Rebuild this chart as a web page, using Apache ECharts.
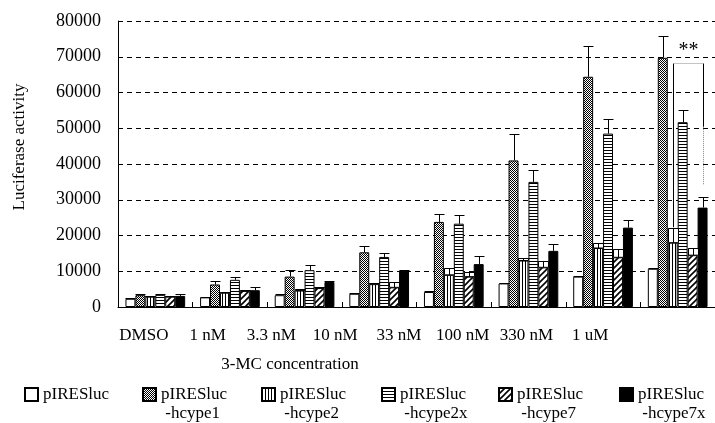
<!DOCTYPE html>
<html>
<head>
<meta charset="utf-8">
<script src="https://cdn.jsdelivr.net/npm/echarts@6/dist/echarts.min.js"></script>
<style>
  html, body { margin: 0; padding: 0; background: #fff; }
  #main { width: 715px; height: 423px; }
</style>
</head>
<body>
<div id="main"></div>
<script>
// categories and series
var categories = ['DMSO', '1 nM', '3.3 nM', '10 nM', '33 nM', '100 nM', '330 nM', '1 uM'];
var seriesNames = ['pIRESluc', 'pIRESluc-hcype1', 'pIRESluc-hcype2', 'pIRESluc-hcype2x', 'pIRESluc-hcype7', 'pIRESluc-hcype7x'];

var lucBase    = [2300, 2700, 3300, 3700, 4200, 6600, 8500, 10700];
var lucHcype1  = [3300, 6300, 8500, 15300, 23800, 41000, 64400, 69700];
var lucHcype2  = [2900, 4000, 4600, 6400, 9000, 13000, 16500, 18000];
var lucHcype2x = [3400, 7600, 10300, 14000, 23300, 35000, 48500, 51700];
var lucHcype7  = [2900, 4500, 5300, 5500, 8500, 11100, 13900, 14500];
var lucHcype7x = [3100, 4700, 7000, 10200, 12000, 15700, 22200, 27800];

// standard deviations (upper error bars)
var errBase    = [200, 200, 200, 200, 200, 200, 200, 200];
var errHcype1  = [300, 900, 1800, 1900, 2200, 7500, 8600, 6200];
var errHcype2  = [200, 300, 300, 400, 1800, 700, 1500, 4200];
var errHcype2x = [200, 900, 1500, 1100, 2300, 3300, 4200, 3500];
var errHcype7  = [200, 300, 400, 1600, 1200, 1900, 2200, 2100];
var errHcype7x = [400, 900, 200, 100, 2200, 1800, 2200, 3000];

var yTicks = [0, 80000, 10000]; // min, max, interval

// significance bracket at 1 uM: [category, left leg bottom, top, right solid end, right dotted end, star height]
var bracket = [[7, 22300, 68300, 50400, 34100, 71600]];

var values = [lucBase, lucHcype1, lucHcype2, lucHcype2x, lucHcype7, lucHcype7x];
var errors = [errBase, errHcype1, errHcype2, errHcype2x, errHcype7, errHcype7x];

var FONT = '"Liberation Serif", "DejaVu Serif", serif';

function pattern(w, h, draw) {
  var c = document.createElement('canvas');
  c.width = w; c.height = h;
  var g = c.getContext('2d');
  g.fillStyle = '#fff';
  g.fillRect(0, 0, w, h);
  g.fillStyle = '#000';
  g.strokeStyle = '#000';
  draw(g);
  return { image: c, repeat: 'repeat' };
}

var fills = [
  '#fff',
  pattern(2, 2, function (g) { g.fillRect(0, 0, 1, 1); g.fillRect(1, 1, 1, 1); }),
  pattern(3, 1, function (g) { g.fillRect(0, 0, 1, 1); }),
  pattern(1, 3, function (g) { g.fillRect(0, 0, 1, 1); }),
  pattern(6, 6, function (g) {
    g.lineWidth = 1.6;
    g.beginPath();
    g.moveTo(-1, 7); g.lineTo(7, -1);
    g.moveTo(-1, 1); g.lineTo(1, -1);
    g.moveTo(5, 7); g.lineTo(7, 5);
    g.stroke();
  }),
  '#000'
];

var errData = [];
values.forEach(function (vals, s) {
  vals.forEach(function (v, i) { errData.push([i, s, v, errors[s][i]]); });
});

function barW(api) { return api.size([1, 0])[0] * 0.8 / 6; }

function renderErr(params, api) {
  var cat = api.value(0), s = api.value(1), v = api.value(2), e = api.value(3);
  var bw = barW(api);
  var p0 = api.coord([cat, v]), p1 = api.coord([cat, v + e]);
  var x = Math.round(p0[0] + (s - 2.5) * bw) + 0.5;
  var y0 = p0[1], y1 = Math.round(p1[1]) + 0.5;
  var kids = [];
  if (s === 2 || s === 4) {
    kids.push({ type: 'rect', shape: { x: x - bw / 2, y: y1, width: bw, height: y0 - y1 },
      style: { fill: '#fff', stroke: '#000', lineWidth: 1 } });
  }
  kids.push({ type: 'line', shape: { x1: x, y1: y0, x2: x, y2: y1 }, style: { stroke: '#000', lineWidth: 1 } });
  kids.push({ type: 'line', shape: { x1: x - bw / 2, y1: y1, x2: x + bw / 2, y2: y1 }, style: { stroke: '#000', lineWidth: 1 } });
  return { type: 'group', children: kids };
}

function renderBracket(params, api) {
  var cat = api.value(0);
  var bw = barW(api);
  var c = api.coord([cat, 0])[0];
  var xl = Math.round(c - 0.5 * bw) + 0.5, xr = Math.round(c + 2.5 * bw) + 0.5;
  var yLow = api.coord([cat, api.value(1)])[1];
  var yTop = Math.round(api.coord([cat, api.value(2)])[1]) + 0.5;
  var yMid = api.coord([cat, api.value(3)])[1];
  var yEnd = api.coord([cat, api.value(4)])[1];
  var yStar = api.coord([cat, api.value(5)])[1];
  var solid = { stroke: '#000', lineWidth: 1 };
  var dotted = { stroke: '#888', lineWidth: 1, lineDash: [1, 1] };
  return { type: 'group', children: [
    { type: 'line', shape: { x1: xl, y1: yLow, x2: xl, y2: yTop }, style: solid },
    { type: 'line', shape: { x1: xl, y1: yTop, x2: xr, y2: yTop }, style: dotted },
    { type: 'line', shape: { x1: xr, y1: yTop, x2: xr, y2: yMid }, style: solid },
    { type: 'line', shape: { x1: xr, y1: yMid, x2: xr, y2: yEnd }, style: dotted },
    { type: 'text', style: { text: '**', x: (xl + xr) / 2, y: yStar, align: 'center', verticalAlign: 'middle',
      font: '20px ' + FONT, fill: '#000' } }
  ] };
}

var legendLeft = [24, 142, 261, 381, 498, 619];

var chart = echarts.init(document.getElementById('main'));

var series = seriesNames.map(function (name, s) {
  return {
    name: name,
    type: 'bar',
    data: values[s],
    barGap: 0,
    barCategoryGap: '20%',
    itemStyle: { color: fills[s], borderColor: '#000', borderWidth: 1 },
    emphasis: { disabled: true }
  };
});
series.push({ type: 'custom', name: 'err', renderItem: renderErr, data: errData, encode: { x: 0, y: 2 }, z: 5, silent: true });
series.push({ type: 'custom', name: 'sig', renderItem: renderBracket, data: bracket, encode: { x: 0, y: 1 }, z: 6, silent: true });

var option = {
  animation: false,
  backgroundColor: '#fff',
  grid: [
    { left: 118, top: 21, width: 600, height: 286 },
    { left: 112, top: 21, width: 510, height: 286 }
  ],
  xAxis: [
    {
      type: 'category', gridIndex: 0, data: categories,
      axisLine: { lineStyle: { color: '#000', width: 1 } },
      axisTick: { show: true, inside: true, length: 5, lineStyle: { color: '#000' } },
      axisLabel: { show: false }
    },
    {
      type: 'category', gridIndex: 1, data: categories,
      axisLine: { show: false }, axisTick: { show: false },
      axisLabel: { interval: 0, margin: 20, color: '#000', fontFamily: FONT, fontSize: 17 }
    }
  ],
  yAxis: [
    {
      type: 'value', gridIndex: 0, min: yTicks[0], max: yTicks[1], interval: yTicks[2],
      axisLine: { show: true, lineStyle: { color: '#000', width: 1 } },
      axisTick: { show: false },
      axisLabel: { margin: 17, color: '#000', fontFamily: FONT, fontSize: 18,
        formatter: function (v) { return String(v); } },
      splitLine: { lineStyle: { color: '#000', type: [5, 4], width: 1 } }
    },
    { type: 'value', gridIndex: 1, show: false, min: 0, max: 1 }
  ],
  legend: seriesNames.map(function (name, i) {
    var twoLine = name.indexOf('-') > 0;
    return {
      data: [name], left: legendLeft[i], top: twoLine ? 366 : 385, padding: 0,
      itemWidth: 13, itemHeight: 13, icon: 'rect', selectedMode: false,
      formatter: function (n) { return n.indexOf('-') > 0 ? '\n' + n.replace('-', '\n -') : n; },
      textStyle: { fontFamily: FONT, fontSize: 17, color: '#000', lineHeight: 19 }
    };
  }),
  graphic: [
    { type: 'text', x: 20, y: 147, rotation: Math.PI / 2,
      style: { text: 'Luciferase activity', align: 'center', verticalAlign: 'middle', font: '17px ' + FONT, fill: '#000' } },
    { type: 'text', x: 290, y: 365,
      style: { text: '3-MC concentration', align: 'center', verticalAlign: 'middle', font: '17px ' + FONT, fill: '#000' } }
  ],
  series: series
};

chart.setOption(option);
</script>
</body>
</html>
